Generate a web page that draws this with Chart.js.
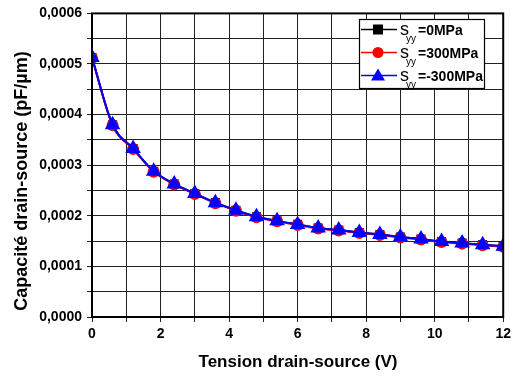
<!DOCTYPE html>
<html>
<head>
<meta charset="utf-8">
<script src="https://cdn.jsdelivr.net/npm/chart.js@4.4.0/dist/chart.umd.min.js"></script>
<style>
html,body{margin:0;padding:0;background:#fff;}
#wrap{width:515px;height:377px;position:relative;}
</style>
</head>
<body>
<div id="wrap"><canvas id="c" width="515" height="377"></canvas></div>
<script>
// Data
const voltages = [0,0.6,1.2,1.8,2.4,3.0,3.6,4.2,4.8,5.4,6.0,6.6,7.2,7.8,8.4,9.0,9.6,10.2,10.8,11.4,12.0];
const s0 =    [0.000513,0.000380,0.000333,0.000288,0.000263,0.000244,0.000226,0.000211,0.000198,0.000190,0.000183,0.000176,0.000172,0.000167,0.000163,0.000158,0.000154,0.000149,0.000146,0.000143,0.000140];
const s300 =  [0.000512,0.000379,0.000332,0.000287,0.000262,0.000243,0.000225,0.000210,0.000197,0.000189,0.000182,0.000175,0.000171,0.000166,0.000162,0.000157,0.000153,0.000148,0.000145,0.000142,0.000139];
const sm300 = [0.000513,0.000380,0.000333,0.000288,0.000263,0.000244,0.000226,0.000211,0.000198,0.000190,0.000183,0.000176,0.000172,0.000167,0.000163,0.000158,0.000154,0.000149,0.000146,0.000143,0.000140];
const seriesNames = ['=0MPa','=300MPa','=-300MPa'];
const xTicks = [0,2,4,6,8,10,12];
const yTicks = [0,0.0001,0.0002,0.0003,0.0004,0.0005,0.0006];
const xTitle = 'Tension drain-source (V)';
const yTitle = 'Capacité drain-source (pF/µm)';

const FONT = "'Liberation Sans', Arial, sans-serif";
const colors = ['#000000','#ff0000','#0000ff'];
const shapes = ['rect','circle','triangle'];

function pts(arr){ return voltages.map((v,i)=>({x:v,y:arr[i]})); }

const extras = {
  id:'extras',
  afterDraw(chart){
    const ctx = chart.ctx, a = chart.chartArea;
    ctx.save();
    // frame
    ctx.strokeStyle='#000'; ctx.lineWidth=2;
    ctx.strokeRect(a.left, a.top, a.right-a.left, a.bottom-a.top);
    // titles
    ctx.fillStyle='#000';
    ctx.textAlign='center'; ctx.textBaseline='middle';
    ctx.font = "bold 17px " + FONT;
    ctx.fillText(xTitle, 298, 362);
    ctx.save();
    ctx.translate(22, 181);
    ctx.rotate(-Math.PI/2);
    ctx.font = "bold 18px " + FONT;
    ctx.fillText(yTitle, 0, 0);
    ctx.restore();
    // legend
    const lx=359, ly=19, lw=125, lh=69;
    ctx.fillStyle='#fff'; ctx.fillRect(lx,ly,lw,lh);
    ctx.strokeStyle='#000'; ctx.lineWidth=1.2; ctx.strokeRect(lx+0.5,ly+0.5,lw,lh);
    const rows=[29.5,52.5,75.5];
    for(let i=0;i<3;i++){
      const y=rows[i];
      ctx.strokeStyle=colors[i]; ctx.lineWidth=1.5;
      ctx.beginPath(); ctx.moveTo(361,y); ctx.lineTo(397,y); ctx.stroke();
      ctx.fillStyle=colors[i];
      const cx=378;
      if(shapes[i]==='rect'){ ctx.fillRect(cx-5,y-5,10,10); }
      else if(shapes[i]==='circle'){ ctx.beginPath(); ctx.arc(cx,y,5.5,0,Math.PI*2); ctx.fill(); }
      else { ctx.beginPath(); ctx.moveTo(cx,y-7); ctx.lineTo(cx+7,y+5); ctx.lineTo(cx-7,y+5); ctx.closePath(); ctx.fill(); }
      ctx.fillStyle='#000'; ctx.textAlign='left'; ctx.textBaseline='alphabetic';
      ctx.font = "18px " + FONT;
      ctx.fillText('s', 400, y+5);
      ctx.font = "10px " + FONT;
      ctx.fillText('yy', 406, y+12);
      ctx.font = "bold 14px " + FONT;
      ctx.fillText(seriesNames[i], 418, y+5);
    }
    ctx.restore();
  }
};

new Chart(document.getElementById('c'), {
  type:'line',
  data:{
    datasets:[
      {label:'syy=0MPa', data:pts(s0), borderColor:colors[0], backgroundColor:colors[0], pointStyle:'rect', pointRadius:5, borderWidth:2, order:3, cubicInterpolationMode:'monotone'},
      {label:'syy=300MPa', data:pts(s300), borderColor:colors[1], backgroundColor:colors[1], pointStyle:'circle', pointRadius:5, borderWidth:2, order:2, cubicInterpolationMode:'monotone'},
      {label:'syy=-300MPa', data:pts(sm300), borderColor:colors[2], backgroundColor:colors[2], pointStyle:'triangle', pointRadius:7, borderWidth:2, order:1, cubicInterpolationMode:'monotone'}
    ]
  },
  options:{
    responsive:false, animation:false,
    layout:{padding:{top:13,right:9,left:0,bottom:0}},
    plugins:{legend:{display:false}, tooltip:{enabled:false}},
    scales:{
      x:{
        type:'linear', min:0, max:12,
        afterBuildTicks(s){ s.ticks = []; for(let v=0; v<=12; v++) s.ticks.push({value:v}); },
        afterFit(s){ s.height = 60; },
        ticks:{ autoSkip:false, maxRotation:0, padding:4, color:'#000',
          font:{family:FONT, size:14, weight:'bold'},
          callback:(v)=> xTicks.includes(v) ? String(v) : '' },
        grid:{ color:'#222', lineWidth:1, tickLength:5, drawTicks:true },
        border:{ display:false }
      },
      y:{
        type:'linear', min:0, max:0.0006,
        afterBuildTicks(s){ s.ticks = []; for(let k=0; k<=12; k++) s.ticks.push({value:k*0.00005}); },
        afterFit(s){ s.width = 92; },
        ticks:{ autoSkip:false, padding:5, color:'#000',
          font:{family:FONT, size:14, weight:'bold'},
          callback:(v)=>{ const k=Math.round(v/0.00005); return k%2===0 ? yTicks[k/2].toFixed(4).replace('.',',') : ''; } },
        grid:{ color:'#222', lineWidth:1, tickLength:5, drawTicks:true },
        border:{ display:false }
      }
    }
  },
  plugins:[extras]
});
</script>
</body>
</html>
